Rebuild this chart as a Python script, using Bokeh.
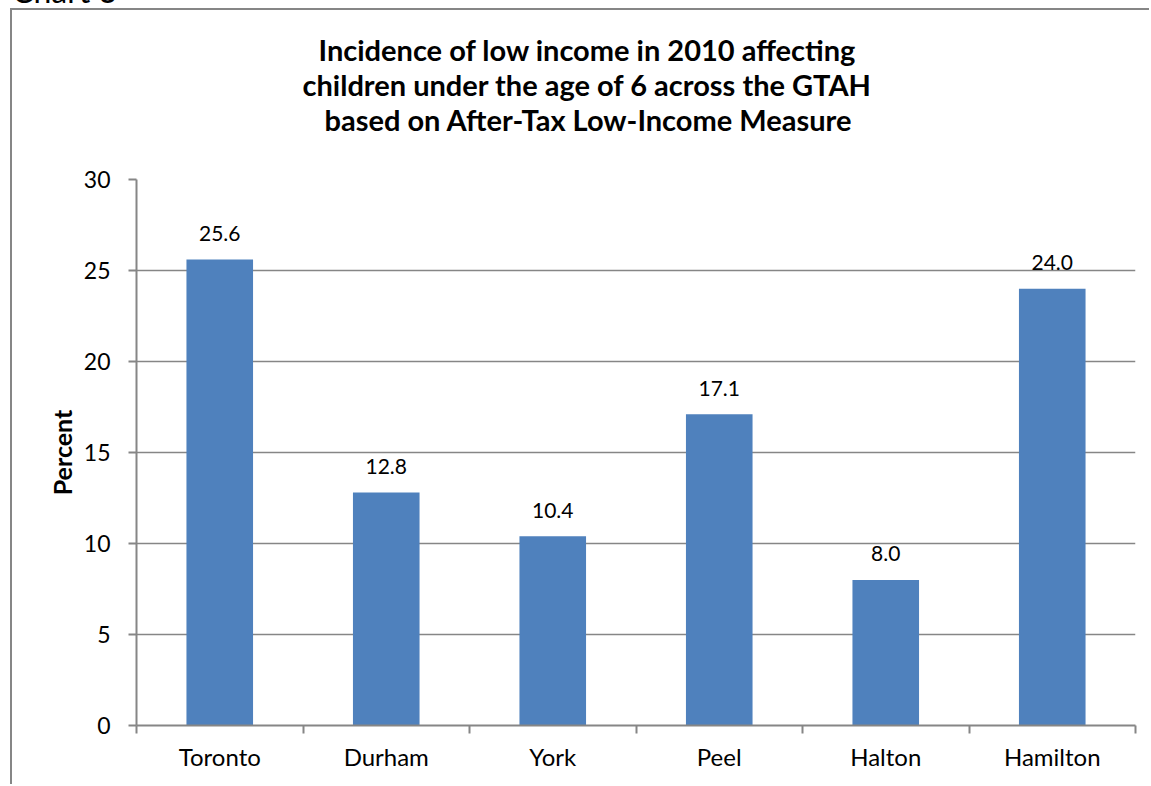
from bokeh.plotting import figure
from bokeh.models import (ColumnDataSource, FixedTicker, LabelSet, Title, Range1d, Div)
from bokeh.layouts import column
from bokeh.core.properties import value
from bokeh.embed import file_html
from bokeh.resources import INLINE

categories = ["Toronto", "Durham", "York", "Peel", "Halton", "Hamilton"]
values = [25.6, 12.8, 10.4, 17.1, 8.0, 24.0]
value_labels = ["25.6", "12.8", "10.4", "17.1", "8.0", "24.0"]
y_ticks = [0, 5, 10, 15, 20, 25, 30]
title_lines = ["Incidence of low income in 2010 affecting",
               "children under the age of 6 across the GTAH",
               "based on After-Tax Low-Income Measure"]
caption = "Chart 3"

FONT = "Lato"
GRAY = "#868686"

# figure canvas sits at (12, 10) in the page (10/8 px margin + 2 px border)
W, H = 1139, 776
FL, FR, FT, FB = 124, 1123, 169, 715   # frame edges in canvas pixels
YMAX = 30
NCAT = len(categories)

xs = [i + 0.5 for i in range(NCAT)]
src = ColumnDataSource(dict(x=xs, top=values, lab=value_labels))

p = figure(width=W, height=H, output_backend="svg", toolbar_location=None,
           x_range=Range1d(0, NCAT), y_range=Range1d(0, YMAX),
           min_border_left=FL, min_border_right=W - FR, min_border_top=FT, min_border_bottom=H - FB,
           margin=(0, 0, 0, 10),
           styles={"border-left": "2px solid #868686", "border-top": "2px solid #868686"})
p.outline_line_color = None
p.background_fill_color = "white"
p.border_fill_color = "white"

p.vbar(x="x", top="top", width=0.4, source=src, fill_color="#4F81BD", line_color=None)

p.add_layout(LabelSet(x="x", y="top", text="lab", source=src, y_offset=26,
                      text_align="center", text_baseline="middle",
                      text_font=value(FONT), text_font_size="21px", text_color="black"))

# axes
p.xaxis.ticker = FixedTicker(ticks=xs, minor_ticks=list(range(NCAT + 1)))
p.xaxis.major_label_overrides = {x: c for x, c in zip(xs, categories)}
p.xaxis.major_tick_out = 0
p.xaxis.major_tick_in = 0
p.xaxis.minor_tick_out = 8
p.xaxis.minor_tick_in = 0
p.xaxis.minor_tick_line_color = GRAY
p.xaxis.minor_tick_line_width = 2
p.xaxis.axis_line_color = GRAY
p.xaxis.axis_line_width = 2
p.xaxis.major_label_text_font = FONT
p.xaxis.major_label_text_font_size = "24px"
p.xaxis.major_label_text_color = "black"
p.xaxis.major_label_standoff = 8

p.yaxis.ticker = FixedTicker(ticks=y_ticks)
p.yaxis.major_tick_out = 8
p.yaxis.major_tick_in = 0
p.yaxis.minor_tick_line_color = None
p.yaxis.major_tick_line_color = GRAY
p.yaxis.major_tick_line_width = 2
p.yaxis.axis_line_color = GRAY
p.yaxis.axis_line_width = 2
p.yaxis.major_label_text_font = FONT
p.yaxis.major_label_text_font_size = "23px"
p.yaxis.major_label_text_color = "black"
p.yaxis.major_label_standoff = 18
p.yaxis.axis_label = "Percent"
p.yaxis.axis_label_text_font = FONT
p.yaxis.axis_label_text_font_style = "bold"
p.yaxis.axis_label_text_font_size = "25px"
p.yaxis.axis_label_text_color = "black"
p.yaxis.axis_label_standoff = 4

p.xgrid.grid_line_color = None
p.ygrid.grid_line_color = GRAY
p.ygrid.grid_line_width = 1.5

# blank spacer between the plot and the title block
p.add_layout(Title(text=" ", standoff=7, text_font=FONT, text_font_style="bold",
                   text_font_size="29px"), "above")

# title lines: the first one added sits nearest the plot
offsets = [182, 166, 188]
for t, o in reversed(list(zip(title_lines, offsets))):
    p.add_layout(Title(text=t, align="left", offset=o, standoff=-2,
                       text_font=FONT, text_font_style="bold", text_font_size="29px",
                       text_color="black"), "above")

cap = Div(text=('<div style="position:relative; top:-25px; left:12px; font-family:Lato; '
                'font-size:32px; line-height:32px; white-space:nowrap; color:black">'
                + caption + '</div>'),
          width=300, height=8, margin=0,
          styles={"overflow": "hidden"})

layout = column(cap, p, spacing=0)
open("out.html", "w").write(file_html(layout, INLINE))
